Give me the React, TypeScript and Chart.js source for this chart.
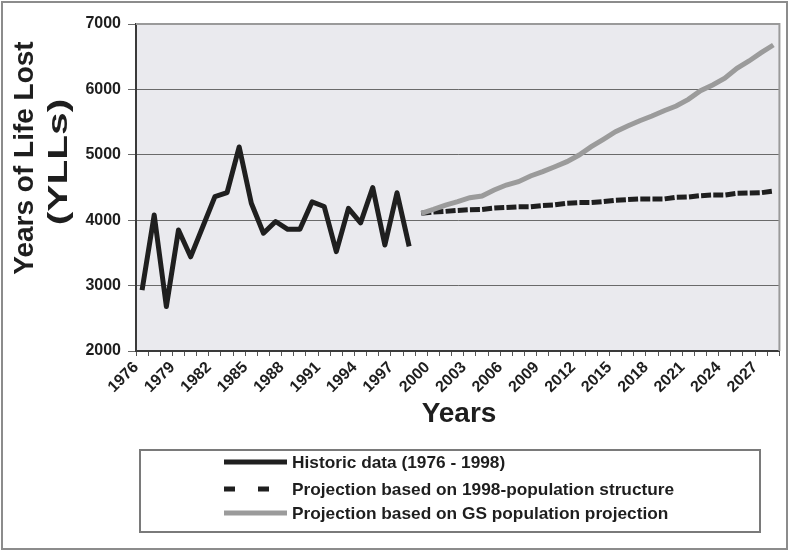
import React, { useEffect, useRef } from 'react';
import { Chart, registerables } from 'chart.js';

Chart.register(...registerables);

const years = [
  '1976', '1977', '1978', '1979', '1980', '1981', '1982', '1983', '1984', '1985',
  '1986', '1987', '1988', '1989', '1990', '1991', '1992', '1993', '1994', '1995',
  '1996', '1997', '1998', '1999', '2000', '2001', '2002', '2003', '2004', '2005',
  '2006', '2007', '2008', '2009', '2010', '2011', '2012', '2013', '2014', '2015',
  '2016', '2017', '2018', '2019', '2020', '2021', '2022', '2023', '2024', '2025',
  '2026', '2027', '2028',
];

// 1976 - 1998
const historic = [
  2930, 4080, 2680, 3850, 3440, 3900, 4360, 4420, 5120, 4260,
  3800, 3980, 3860, 3860, 4280, 4210, 3520, 4180, 3960, 4500,
  3620, 4420, 3600,
];

// 1999 - 2028
const projection1998 = [
  4105, 4125, 4135, 4150, 4160, 4165, 4185, 4195, 4205, 4205,
  4225, 4235, 4260, 4270, 4270, 4285, 4305, 4315, 4325, 4325,
  4325, 4350, 4355, 4375, 4385, 4385, 4410, 4415, 4420, 4445,
];

// 1999 - 2028
const projectionGS = [
  4105, 4166, 4232, 4283, 4344, 4370, 4462, 4538, 4589, 4676,
  4742, 4818, 4895, 4997, 5124, 5237, 5353, 5440, 5521, 5593,
  5674, 5746, 5848, 5980, 6067, 6170, 6323, 6434, 6561, 6679,
];

const projectionStartIndex = years.indexOf('1999');
const yTicks = [2000, 3000, 4000, 5000, 6000, 7000];

const seriesLabels = [
  'Historic data (1976 - 1998)',
  'Projection based on 1998-population structure',
  'Projection based on GS population projection',
];

const FONT = '"Liberation Sans", Arial, sans-serif';

const pad = (arr: number[]) =>
  (new Array(projectionStartIndex).fill(null) as (number | null)[]).concat(arr);

const decoPlugin = {
  id: 'deco',
  beforeDraw(chart: any) {
    const { ctx, chartArea: a } = chart;
    ctx.save();
    ctx.fillStyle = '#ffffff';
    ctx.fillRect(0, 0, chart.width, chart.height);
    ctx.fillStyle = '#eaeaee';
    ctx.fillRect(a.left, a.top, a.right - a.left, a.bottom - a.top);
    ctx.restore();
  },
  afterDraw(chart: any) {
    const { ctx, chartArea: a } = chart;
    ctx.save();
    // plot area top/right border
    ctx.strokeStyle = '#9a9a9a';
    ctx.lineWidth = 2;
    ctx.beginPath();
    ctx.moveTo(a.left, a.top);
    ctx.lineTo(a.right, a.top);
    ctx.lineTo(a.right, a.bottom);
    ctx.stroke();

    // outer frame
    ctx.strokeStyle = '#8c8c8c';
    ctx.lineWidth = 2;
    ctx.strokeRect(2, 2, 785, 547);

    // axis titles
    ctx.fillStyle = '#1e1e1e';
    ctx.font = `bold 28px ${FONT}`;
    ctx.textAlign = 'center';
    ctx.textBaseline = 'alphabetic';
    ctx.fillText('Years', 459, 422);

    ctx.save();
    ctx.translate(33, 158);
    ctx.rotate(-Math.PI / 2);
    ctx.fillText('Years of Life Lost', 0, 0);
    ctx.restore();
    ctx.save();
    ctx.translate(67, 162);
    ctx.rotate(-Math.PI / 2);
    ctx.scale(1.45, 1);
    ctx.fillText('(YLLs)', 0, 0);
    ctx.restore();

    // legend box
    ctx.strokeStyle = '#7a7a7a';
    ctx.lineWidth = 2;
    ctx.strokeRect(140, 450, 620, 82);

    const rows = [462, 489, 513];
    const ds = chart.data.datasets;
    ctx.font = `bold 17.3px ${FONT}`;
    ctx.textAlign = 'left';
    ctx.textBaseline = 'middle';
    ds.forEach((d: any, i: number) => {
      const y = rows[i];
      ctx.save();
      ctx.strokeStyle = d.borderColor;
      ctx.lineWidth = 5;
      ctx.setLineDash(i === 1 ? [11, 23] : []);
      ctx.beginPath();
      ctx.moveTo(224, y);
      ctx.lineTo(287, y);
      ctx.stroke();
      ctx.restore();
      ctx.fillStyle = '#1e1e1e';
      ctx.fillText(d.label, 292, y + 1);
    });
    ctx.restore();
  },
};

export default function App() {
  const ref = useRef<HTMLCanvasElement | null>(null);

  useEffect(() => {
    if (!ref.current) return;
    const chart = new Chart(ref.current, {
      type: 'line',
      data: {
        labels: years,
        datasets: [
          {
            label: seriesLabels[0],
            data: historic,
            borderColor: '#1f1f1f',
            borderWidth: 5,
            pointRadius: 0,
            tension: 0,
            borderJoinStyle: 'round',
            order: 2,
          },
          {
            label: seriesLabels[1],
            data: pad(projection1998),
            borderColor: '#1f1f1f',
            borderWidth: 5,
            borderDash: [10, 2.2],
            pointRadius: 0,
            tension: 0,
            order: 1,
          },
          {
            label: seriesLabels[2],
            data: pad(projectionGS),
            borderColor: '#9b9b9b',
            borderWidth: 5,
            pointRadius: 0,
            tension: 0,
            order: 0,
          },
        ],
      },
      options: {
        responsive: false,
        animation: false,
        events: [],
        layout: { padding: { left: 0, top: 24, right: 8, bottom: 0 } },
        plugins: {
          legend: { display: false },
          tooltip: { enabled: false },
          title: { display: false },
        },
        scales: {
          x: {
            type: 'category',
            offset: true,
            afterFit: (s: any) => {
              s.height = 200;
            },
            grid: {
              display: true,
              drawOnChartArea: false,
              offset: true,
              tickLength: 5,
              color: '#555555',
              lineWidth: 1,
            },
            border: { display: true, color: '#3a3a3a', width: 2 },
            ticks: {
              autoSkip: false,
              maxRotation: 45,
              minRotation: 45,
              padding: 2,
              labelOffset: -6,
              color: '#1e1e1e',
              font: { family: FONT, size: 16, weight: 'bold' },
              callback: (_v: any, i: number) => (i % 3 === 0 ? years[i] : ''),
            },
          },
          y: {
            min: yTicks[0],
            max: yTicks[yTicks.length - 1],
            afterFit: (s: any) => {
              s.width = 136;
            },
            afterBuildTicks: (s: any) => {
              s.ticks = yTicks.map((v) => ({ value: v }));
            },
            grid: {
              color: '#6a6a6a',
              lineWidth: 1,
              tickLength: 8,
            },
            border: { display: true, color: '#3a3a3a', width: 2 },
            ticks: {
              padding: 7,
              color: '#1e1e1e',
              font: { family: FONT, size: 16, weight: 'bold' },
              callback: (v: any) => String(v),
            },
          },
        },
      },
      plugins: [decoPlugin],
    } as any);
    return () => chart.destroy();
  }, []);

  return (
    <div style={{ position: 'fixed', left: 0, top: 0, width: 789, height: 551 }}>
      <canvas ref={ref} width={789} height={551} style={{ width: 789, height: 551 }} />
    </div>
  );
}
